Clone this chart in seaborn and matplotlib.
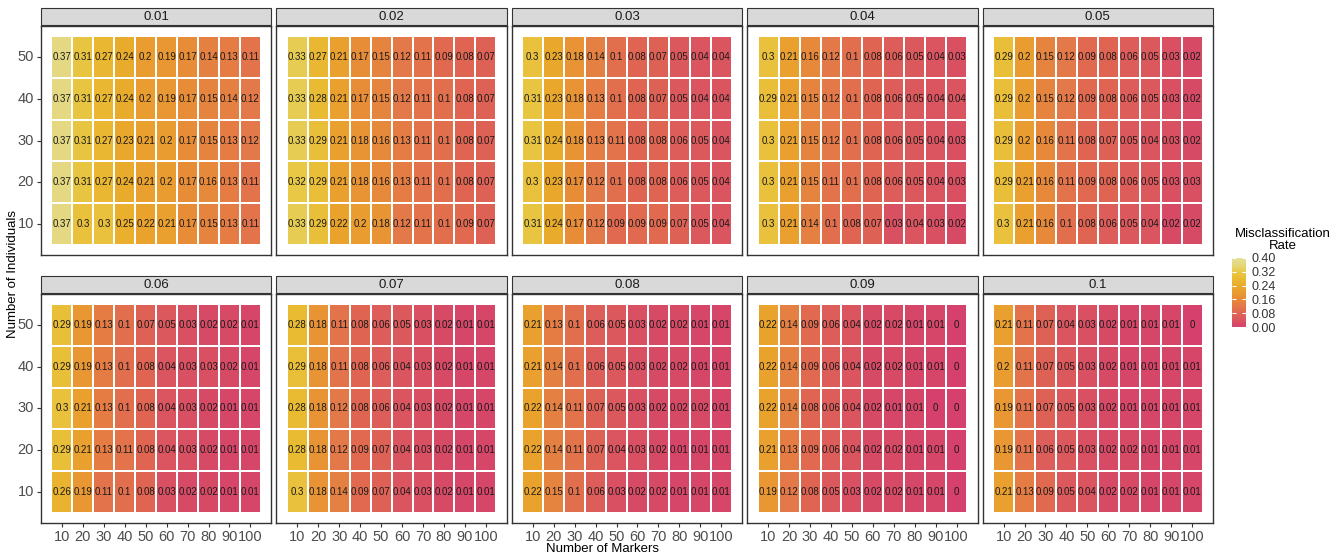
import numpy as np
import pandas as pd
import matplotlib
matplotlib.use("Agg")
import matplotlib.pyplot as plt
import seaborn as sns
from matplotlib.colors import LinearSegmentedColormap, Normalize
from matplotlib.patches import Rectangle
from matplotlib.cm import ScalarMappable

plt.rcParams["font.family"] = ["Liberation Sans", "DejaVu Sans"]

# facet values (error rate) and axes
rates = ["0.01", "0.02", "0.03", "0.04", "0.05", "0.06", "0.07", "0.08", "0.09", "0.1"]
markers = [10, 20, 30, 40, 50, 60, 70, 80, 90, 100]
individuals = [50, 40, 30, 20, 10]

# misclassification rate per panel, rows = individuals (50 -> 10), cols = markers
r001 = [[.37, .31, .27, .24, .2, .19, .17, .14, .13, .11],
        [.37, .31, .27, .24, .2, .19, .17, .15, .14, .12],
        [.37, .31, .27, .23, .21, .2, .17, .15, .13, .12],
        [.37, .31, .27, .24, .21, .2, .17, .16, .13, .11],
        [.37, .3, .3, .25, .22, .21, .17, .15, .13, .11]]
r002 = [[.33, .27, .21, .17, .15, .12, .11, .09, .08, .07],
        [.33, .28, .21, .17, .15, .12, .11, .1, .08, .07],
        [.33, .29, .21, .18, .16, .13, .11, .1, .08, .07],
        [.32, .29, .21, .18, .16, .13, .11, .1, .08, .07],
        [.33, .29, .22, .2, .18, .12, .11, .1, .09, .07]]
r003 = [[.3, .23, .18, .14, .1, .08, .07, .05, .04, .04],
        [.31, .23, .18, .13, .1, .08, .07, .05, .04, .04],
        [.31, .24, .18, .13, .11, .08, .08, .06, .05, .04],
        [.3, .23, .17, .12, .1, .08, .08, .06, .05, .04],
        [.31, .24, .17, .12, .09, .09, .09, .07, .05, .04]]
r004 = [[.3, .21, .16, .12, .1, .08, .06, .05, .04, .03],
        [.29, .21, .15, .12, .1, .08, .06, .05, .04, .04],
        [.3, .21, .15, .12, .1, .08, .06, .05, .04, .03],
        [.3, .21, .15, .11, .1, .08, .06, .05, .04, .03],
        [.3, .21, .14, .1, .08, .07, .03, .04, .03, .02]]
r005 = [[.29, .2, .15, .12, .09, .08, .06, .05, .03, .02],
        [.29, .2, .15, .12, .09, .08, .06, .05, .03, .02],
        [.29, .2, .16, .11, .08, .07, .05, .04, .03, .02],
        [.29, .21, .16, .11, .09, .08, .06, .05, .03, .03],
        [.3, .21, .16, .1, .08, .06, .05, .04, .02, .02]]
r006 = [[.29, .19, .13, .1, .07, .05, .03, .02, .02, .01],
        [.29, .19, .13, .1, .08, .04, .03, .03, .02, .01],
        [.3, .21, .13, .1, .08, .04, .03, .02, .01, .01],
        [.29, .21, .13, .11, .08, .04, .03, .02, .01, .01],
        [.26, .19, .11, .1, .08, .03, .02, .02, .01, .01]]
r007 = [[.28, .18, .11, .08, .06, .05, .03, .02, .01, .01],
        [.29, .18, .11, .08, .06, .04, .03, .02, .01, .01],
        [.28, .18, .12, .08, .06, .04, .03, .02, .01, .01],
        [.28, .18, .12, .09, .07, .04, .03, .02, .01, .01],
        [.3, .18, .14, .09, .07, .04, .03, .02, .01, .01]]
r008 = [[.21, .13, .1, .06, .05, .03, .02, .02, .01, .01],
        [.21, .14, .1, .06, .05, .03, .02, .02, .01, .01],
        [.22, .14, .11, .07, .05, .03, .02, .02, .02, .01],
        [.22, .14, .11, .07, .04, .03, .02, .01, .01, .01],
        [.22, .15, .1, .06, .03, .02, .02, .01, .01, .01]]
r009 = [[.22, .14, .09, .06, .04, .02, .02, .01, .01, 0],
        [.22, .14, .09, .06, .04, .02, .02, .01, .01, 0],
        [.22, .14, .08, .06, .04, .02, .01, .01, 0, 0],
        [.21, .13, .09, .06, .04, .02, .02, .01, .01, 0],
        [.19, .12, .08, .05, .03, .02, .02, .01, .01, 0]]
r010 = [[.21, .11, .07, .04, .03, .02, .01, .01, .01, 0],
        [.2, .11, .07, .05, .03, .02, .01, .01, .01, .01],
        [.19, .11, .07, .05, .03, .02, .01, .01, .01, .01],
        [.19, .11, .06, .05, .03, .02, .02, .01, .01, .01],
        [.21, .13, .09, .05, .04, .02, .02, .01, .01, .01]]

panels = [r001, r002, r003, r004, r005, r006, r007, r008, r009, r010]

# gradient: pink-red -> orange -> yellow -> pale
cmap = LinearSegmentedColormap.from_list("mis", [
    (0.0, "#d5416c"), (0.1, "#da5560"), (0.2, "#df6552"), (0.3, "#e37848"),
    (0.4, "#e6893a"), (0.5, "#e99c2f"), (0.6, "#e9ab2b"), (0.7, "#e9bb33"),
    (0.8, "#e8c845"), (0.9, "#e5d77a"), (1.0, "#e3e09a")])
norm = Normalize(0, 0.4)

W, H = 1330, 555
fig, axes = plt.subplots(2, 5, figsize=(W / 100, H / 100), dpi=100)
fig.subplots_adjust(left=41 / W, right=1213 / W, top=1 - 26 / H, bottom=1 - 523 / H,
                    wspace=0.022, hspace=0.17)

for i, ax in enumerate(axes.flat):
    df = pd.DataFrame(panels[i], index=individuals, columns=markers)
    labels = df.map(lambda v: f"{v:g}")
    sns.heatmap(df, ax=ax, cmap=cmap, vmin=0, vmax=0.4, cbar=False,
                annot=labels, fmt="", annot_kws={"fontsize": 7, "color": "#1a1a1a"},
                linewidths=1.2, linecolor="white")
    ax.set_xlim(-0.5, 10.5)
    ax.set_ylim(5.25, -0.25)
    ax.set_xlabel("")
    ax.set_ylabel("")
    for s in ax.spines.values():
        s.set_visible(True)
        s.set_color("#333333")
        s.set_linewidth(1)
    ax.tick_params(length=3, color="#333333", labelcolor="#4d4d4d", labelsize=10.5, pad=2)
    if i < 5:
        ax.tick_params(bottom=False, labelbottom=False)
    else:
        ax.set_xticklabels(markers, rotation=0)
    if i % 5:
        ax.tick_params(left=False, labelleft=False)
    else:
        ax.set_yticklabels(individuals, rotation=0)
    # facet strip
    ax.add_patch(Rectangle((0, 1.004), 1, 0.074, transform=ax.transAxes, clip_on=False,
                           facecolor="#d9d9d9", edgecolor="#333333", lw=0.8))
    ax.text(0.5, 1.041, rates[i], transform=ax.transAxes, ha="center", va="center",
            fontsize=9.5, color="#1a1a1a")

fig.text(602 / W, 1 - 549 / H, "Number of Markers", ha="center", va="center", fontsize=9.5)
fig.text(13 / W, 1 - 274 / H, "Number of Individuals", ha="center", va="center",
         rotation=90, fontsize=9.5)

# colour legend
ticks = [0, 0.08, 0.16, 0.24, 0.32, 0.40]
cax = fig.add_axes([1232 / W, 1 - 327 / H, 14 / W, 69 / H])
cb = fig.colorbar(ScalarMappable(norm=norm, cmap=cmap), cax=cax, ticks=ticks)
cb.outline.set_visible(False)
cb.ax.set_yticklabels([f"{t:.2f}" for t in ticks])
cb.ax.tick_params(direction="in", length=3, color="white", labelcolor="#333333",
                  labelsize=9, pad=4, left=True, right=True)
fig.text(1283 / W, 1 - 240 / H, "Misclassification\nRate", ha="center", va="center",
         fontsize=9.5, linespacing=1.0)

fig.savefig("out.png", dpi=100)
